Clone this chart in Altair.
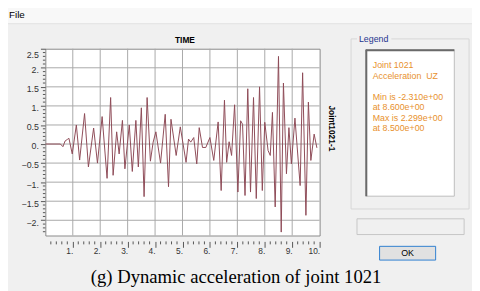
import altair as alt
import pandas as pd

# ---- data ----
time_s = [0.0, 0.55, 0.64, 0.72, 0.8, 0.86, 0.98, 1.13, 1.25, 1.43, 1.57, 1.76, 1.9, 2.07,
          2.25, 2.38, 2.47, 2.6, 2.69, 2.81, 2.9, 3.06, 3.17, 3.3, 3.39, 3.5, 3.6, 3.71,
          3.83, 3.93, 4.03, 4.2, 4.37, 4.49, 4.58, 4.77, 4.92, 5.13, 5.22, 5.3, 5.41, 5.52,
          5.61, 5.73, 5.85, 6.0, 6.14, 6.3, 6.41, 6.53, 6.61, 6.7, 6.79, 6.9, 7.02, 7.12,
          7.19, 7.28, 7.38, 7.48, 7.59, 7.69, 7.81, 7.91, 8.0, 8.12, 8.2, 8.28, 8.38, 8.5,
          8.6, 8.68, 8.79, 8.88, 8.97, 9.1, 9.29, 9.38, 9.5, 9.59, 9.68, 9.8, 9.9]
accel = [0.0, 0.0, -0.07, 0.08, 0.12, 0.15, -0.26, 0.5, -0.42, 0.8, -0.6, 0.42, -0.5, 0.72,
         -0.9, 1.22, -0.82, 0.32, -0.26, 0.62, -0.65, 0.5, -0.72, 0.62, -0.6, 0.95, -1.38, 1.22,
         -0.45, 0.05, 0.32, -0.5, 0.78, -1.12, 0.65, -0.3, 0.45, -0.48, 0.13, 0.05, 0.17, -0.52,
         0.43, -0.09, -0.09, 0.17, -0.43, 0.58, -1.22, 1.15, -0.48, 0.06, -0.3, 1.03, -1.26, 0.61,
         0.52, -1.35, 1.45, -1.26, 1.22, -1.43, 1.5, -1.22, 0.57, -0.17, -0.3, 0.83, -1.65, 2.299,
         -2.31, 1.6, -0.78, 0.43, -0.52, 0.68, -1.09, 1.87, -1.87, 1.1, -0.43, 0.26, -0.1]

x_major = [1, 2, 3, 4, 5, 6, 7, 8, 9, 10]
x_minor = [round(i * 0.2, 1) for i in range(1, 50) if i % 5 != 0]
y_major = [-2.0, -1.5, -1.0, -0.5, 0.0, 0.5, 1.0, 1.5, 2.0, 2.5]
y_minor = [round(-2.3 + 0.1 * i, 1) for i in range(0, 48)]
y_minor = [v for v in y_minor if abs(v * 2 - round(v * 2)) > 1e-6]
x_grid = [1, 2, 3, 4, 5, 6, 7, 8, 9]
y_grid = [-2.0, -1.5, -1.0, -0.5, 0.0, 0.5, 1.0, 1.5, 2.0]

legend_lines = ["Joint 1021", "Acceleration\u00a0 UZ", "", "Min is -2.310e+00", "at 8.600e+00",
                "Max is 2.299e+00", "at 8.500e+00"]
caption = "(g) Dynamic acceleration of joint 1021"

W, H = 279, 190
FONT = "Liberation Sans"

xs = alt.Scale(domain=[0, 10], nice=False, zero=False)
ys = alt.Scale(domain=[-2.4, 2.5], nice=False, zero=False)

x_axis = alt.Axis(
    values=x_major, title=None, domain=False, grid=False, offset=6, tickSize=6,
    tickColor="#555555", labelAlign="right", labelPadding=-1, labelFlush=False,
    labelFontSize=8.5, labelFont=FONT, labelColor="#333333",
    labelExpr="datum.value + '.'")
y_axis = alt.Axis(
    values=y_major, title=None, domain=False, grid=False, tickSize=5,
    tickColor="#555555", labelPadding=2, labelFlush=True, labelOffset=2,
    labelFontSize=9, labelFont=FONT, labelColor="#333333",
    labelExpr="datum.value == floor(datum.value) ? format(datum.value, 'd') + '.' : format(datum.value, '.1f')")

df = pd.DataFrame({"t": time_s, "a": accel})

one = alt.Data(values=[{}])


def box(x1, x2, y1, y2, fill, stroke=None, sw=1):
    kw = dict(fill=fill)
    if stroke:
        kw.update(stroke=stroke, strokeWidth=sw)
    else:
        kw.update(strokeWidth=0)
    return alt.Chart(one).mark_rect(**kw).encode(
        x=alt.value(x1), x2=alt.value(x2), y=alt.value(y1), y2=alt.value(y2))


def txt(s, x, y, size=9, color="#000000", align="left", weight="normal", angle=0, font=FONT):
    kw = dict(text=s, fontSize=size, color=color, align=align, baseline="middle",
              fontWeight=weight, font=font)
    if angle:
        kw["angle"] = angle
    return alt.Chart(one).mark_text(**kw).encode(x=alt.value(x), y=alt.value(y))


def hline(x1, x2, y, color, sw=1):
    return alt.Chart(one).mark_rule(color=color, strokeWidth=sw).encode(
        x=alt.value(x1), x2=alt.value(x2), y=alt.value(y))


def vline(x, y1, y2, color, sw=1):
    return alt.Chart(one).mark_rule(color=color, strokeWidth=sw).encode(
        x=alt.value(x), y=alt.value(y1), y2=alt.value(y2))


# window chrome
menu = box(-40, 440, -42, -26, "#f8f8f8")
menu_line = hline(-40, 440, -25.5, "#e2e2e2")
file_t = txt("File", -37, -34, size=10)

title_t = txt("TIME", 142, -9, size=8.5, weight="bold", align="center")
side_t = txt("Joint1021-1", 292, 81, size=8.5, weight="bold", align="center", angle=90)

group = box(311, 431, -10, 163, "#f0f0f0", "#d6d6d6")
leg_bg = box(317, 352, -15, -4, "#f0f0f0")
leg_t = txt("Legend", 319, -9.5, size=9, color="#24358f")
white = box(326, 416, 1, 150, "#ffffff", "#bdbdbd")
white_l = vline(326.5, 1, 150, "#6a6a6a", 2)
white_tp = hline(326, 416, 1.5, "#6a6a6a", 2)
leg_ys = [17, 28, 38.5, 49, 59.7, 70.3, 80.7]
leg_txt = [txt(s, 333, yy, size=9, color="#e8912d") for s, yy in zip(legend_lines, leg_ys) if s]

field = box(317, 426, 173, 189, "#f0f0f0", "#c6c6c6")
ok_b = box(340, 397, 201, 215, "#e1e1e1", "#2f7fd0")
ok_t = txt("OK", 368.5, 208, size=9, align="center")
cap_t = txt(caption, 194, 232, size=19, align="center", font="Liberation Serif")

# plot content
grid_x = alt.Chart(pd.DataFrame({"v": x_grid})).mark_rule(color="#a8a8a8", strokeWidth=1).encode(
    x=alt.X("v:Q", scale=xs, axis=x_axis))
grid_y = alt.Chart(pd.DataFrame({"v": y_grid})).mark_rule(color="#a8a8a8", strokeWidth=1).encode(
    y=alt.Y("v:Q", scale=ys, axis=y_axis))
minor_y = alt.Chart(pd.DataFrame({"v": y_minor})).mark_rule(color="#555555", strokeWidth=1).encode(
    y=alt.Y("v:Q", scale=ys, axis=y_axis), x=alt.value(-2.5), x2=alt.value(0))
minor_x = alt.Chart(pd.DataFrame({"v": x_minor})).mark_rule(color="#555555", strokeWidth=1).encode(
    x=alt.X("v:Q", scale=xs, axis=x_axis), y=alt.value(H + 6), y2=alt.value(H + 9))

line = alt.Chart(df).mark_line(color="#8e4a57", strokeWidth=1, clip=True).encode(
    x=alt.X("t:Q", scale=xs, axis=x_axis),
    y=alt.Y("a:Q", scale=ys, axis=y_axis),
)

chart = alt.layer(
    menu, menu_line, file_t, title_t, side_t,
    group, leg_bg, leg_t, white, white_l, white_tp, *leg_txt,
    field, ok_b, ok_t, cap_t,
    grid_x, grid_y, minor_y, minor_x, line,
).properties(
    width=W, height=H,
    padding={"left": 38, "top": 39, "right": 155, "bottom": 54},
    autosize=alt.AutoSizeParams(type="none"),
    background="#f0f0f0",
).configure_view(stroke="#8a8a8a", strokeWidth=1, fill="#ffffff")

chart.save("out.html", embed_options={"renderer": "svg", "actions": False})
